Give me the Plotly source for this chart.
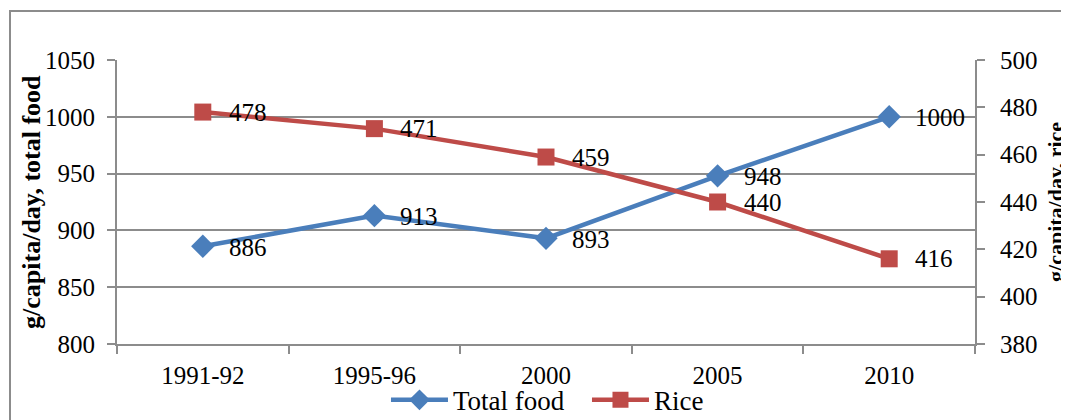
import plotly.graph_objects as go

# data
periods = ["1991-92", "1995-96", "2000", "2005", "2010"]
total_food = [886, 913, 893, 948, 1000]
rice = [478, 471, 459, 440, 416]

font = "Liberation Serif"
blue = "#4A7EBB"
red = "#BE4B48"
grey = "#8C8C8C"

fig = go.Figure()

fig.add_trace(go.Scatter(
    x=periods, y=total_food, name="Total food", mode="lines+markers",
    line=dict(color=blue, width=4.5),
    marker=dict(symbol="diamond", size=18, color=blue),
    yaxis="y",
))

fig.add_trace(go.Scatter(
    x=periods, y=rice, name="Rice", mode="lines+markers",
    line=dict(color=red, width=4.5),
    marker=dict(symbol="square", size=17, color=red),
    yaxis="y2",
))

# data labels, right of the points (x given as category index)
for i, v in enumerate(total_food):
    fig.add_annotation(x=i, y=v, xref="x", yref="y", text=str(v), showarrow=False,
                       xanchor="left", xshift=24, yshift=-1,
                       font=dict(family=font, size=25, color="black"))
for i, v in enumerate(rice):
    fig.add_annotation(x=i, y=v, xref="x", yref="y2", text=str(v), showarrow=False,
                       xanchor="left", xshift=24, yshift=0,
                       font=dict(family=font, size=25, color="black"))

# axis titles
fig.add_annotation(x=-0.1003, y=0.5, xref="paper", yref="paper",
                   xanchor="center", yanchor="middle",
                   text="<b>g/capita/day, total food</b>", textangle=-90,
                   showarrow=False, font=dict(family=font, size=26, color="black"))
fig.add_annotation(x=1.0932, y=0.5, xref="paper", yref="paper",
                   xanchor="center", yanchor="middle",
                   text="<b>g/capita/day, rice</b>", textangle=-90,
                   showarrow=False, font=dict(family=font, size=22, color="black"))

# outer frame of the chart area
fig.add_shape(type="rect", xref="paper", yref="paper",
              x0=-0.1247, y0=1.1725, x1=1.3, y1=-0.5,
              line=dict(color=grey, width=2), layer="below")

# the page puts the figure 8px in from the window corner, margins allow for that
fig.update_layout(
    width=1069, height=420,
    margin=dict(l=109, r=102, t=52, b=84, autoexpand=False),
    paper_bgcolor="white", plot_bgcolor="white",
    font=dict(family=font, size=25, color="black"),
    showlegend=True,
    legend=dict(orientation="h", x=0.3135, xanchor="left", y=-0.112, yanchor="top",
                font=dict(family=font, size=27, color="black"),
                itemwidth=57, tracegroupgap=0, bgcolor="rgba(0,0,0,0)",
                entrywidth=129, entrywidthmode="pixels"),
    xaxis=dict(
        type="category", range=[-0.5, 4.5],
        showline=True, linecolor=grey, linewidth=2,
        ticks="outside", tickson="boundaries", ticklen=8, tickcolor=grey, tickwidth=2,
        showgrid=False, ticklabelstandoff=8,
        tickfont=dict(family=font, size=25, color="black"),
    ),
    yaxis=dict(
        range=[800, 1050], dtick=50,
        showline=True, linecolor=grey, linewidth=2,
        ticks="outside", ticklen=8, tickcolor=grey, tickwidth=2,
        showgrid=True, gridcolor=grey, gridwidth=1.5, zeroline=False,
        ticklabelstandoff=7,
        tickfont=dict(family=font, size=25, color="black"),
    ),
    yaxis2=dict(
        range=[380, 500], dtick=20, overlaying="y", side="right",
        showline=True, linecolor=grey, linewidth=2,
        ticks="outside", ticklen=8, tickcolor=grey, tickwidth=2,
        showgrid=False, zeroline=False, ticklabelstandoff=10,
        tickfont=dict(family=font, size=25, color="black"),
    ),
)

fig.write_html("out.html")
